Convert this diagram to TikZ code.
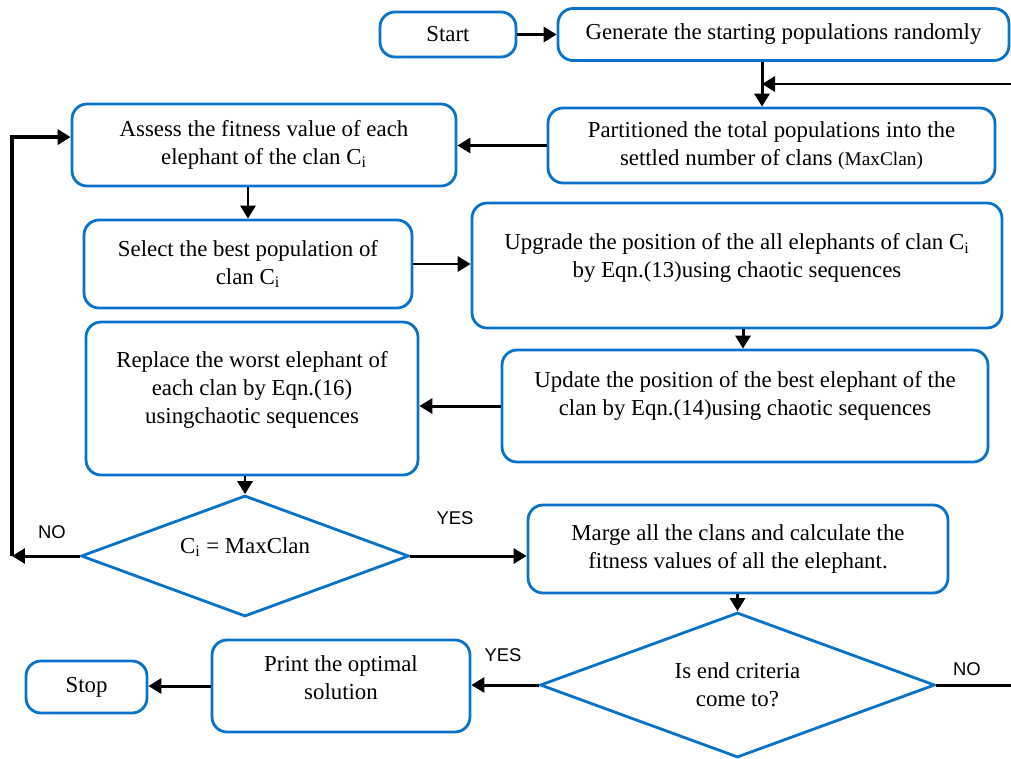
\documentclass[tikz,border=0pt]{standalone}
\usepackage{fontspec}
\setmainfont{Liberation Serif}
\setsansfont{Liberation Sans}
\usetikzlibrary{shapes.geometric,arrows.meta}
\definecolor{boxblue}{RGB}{10,114,200}
\newcommand{\lowgap}[1]{\rule[-#1]{0pt}{0pt}}

\tikzset{
    process/.style={draw=boxblue, line width=1.6pt, rounded corners=0.3cm, align=center,
        inner sep=2pt, font=\fontsize{13}{16}\selectfont},
    decision/.style={draw=boxblue, line width=1.6pt, diamond, shape aspect=2.7, align=center,
        inner sep=0pt, font=\fontsize{13}{16}\selectfont},
    flow/.style={line width=1.7pt, -{Triangle[length=0.26cm,width=0.3cm]}},
    answer/.style={font=\sffamily\fontsize{10.5}{12}\selectfont}
}

\begin{document}
\begin{tikzpicture}[x=0.02cm,y=-0.02cm]
    \useasboundingbox (0,0) rectangle (1011,758);

    % Process boxes
    \node[process, minimum width=2.72cm, minimum height=0.9cm] (start) at (448,34.5) {Start};
    \node[process, minimum width=9.02cm, minimum height=1.04cm] (gen) at (783.5,34.5) {Generate the starting populations randomly};
    \node[process, minimum width=8.94cm, minimum height=1.5cm] (part) at (771.5,145.5) {Partitioned the total populations into the\\ settled number of clans {\fontsize{11}{16}\selectfont(MaxClan)}};
    \node[process, minimum width=7.68cm, minimum height=1.64cm] (assess) at (264,145) {Assess the fitness value of each\\ elephant of the clan C\textsubscript{i}};
    \node[process, minimum width=6.56cm, minimum height=1.76cm] (select) at (248,264) {Select the best population of\\ clan C\textsubscript{i}};
    \node[process, minimum width=10.6cm, minimum height=2.5cm] (upgrade) at (737,265.5) {Upgrade the position of the all elephants of clan C\textsubscript{i}\\ by Eqn.(13)using chaotic sequences\lowgap{11pt}};
    \node[process, minimum width=9.72cm, minimum height=2.24cm] (update) at (745,406) {Update the position of the best elephant of the\\ clan by Eqn.(14)using chaotic sequences\lowgap{14pt}};
    \node[process, minimum width=6.64cm, minimum height=3.06cm] (replace) at (252,398.5) {Replace the worst elephant of\\ each clan by Eqn.(16)\\ usingchaotic sequences\lowgap{13pt}};
    \node[process, minimum width=8.4cm, minimum height=1.76cm] (marge) at (738,549) {Marge all the clans and calculate the\\ fitness values of all the elephant.};
    \node[process, minimum width=5.16cm, minimum height=1.84cm] (print) at (341,686) {Print the optimal\\ solution\lowgap{10pt}};
    \node[process, minimum width=2.42cm, minimum height=1.04cm] (stop) at (86.5,687) {Stop};

    % Decisions
    \node[decision, minimum width=6.56cm, minimum height=2.42cm] (check) at (245,556) {C\textsubscript{i} = MaxClan\lowgap{12pt}};
    \node[decision, minimum width=7.9cm, minimum height=2.9cm] (crit) at (737.5,685) {Is end criteria\\ come to?};

    % Answers
    \node[answer] (no1) at (52,532) {NO};
    \node[answer] (yes1) at (455,518) {YES};
    \node[answer] (yes2) at (503,655) {YES};
    \node[answer] (no2) at (967,669) {NO};

    % Loose ends and corners
    \coordinate (split) at (762,84);
    \coordinate (loopin) at (1011,84);
    \coordinate (drop) at (743,340);
    \coordinate (back) at (12,556);
    \coordinate (exit) at (1011,685);

    % Connectors
    \draw[flow] (start.east) -- (gen.west);
    \draw[flow] (gen.south -| split) -- (part.north -| split);
    \draw[flow] (loopin) -- (split);
    \draw[flow] (part.west) -- (part.west -| assess.east);
    \draw[flow] (assess.south -| select.north) -- (select.north);
    \draw[flow] (select.east) -- (select.east -| upgrade.west);
    \draw[flow] (upgrade.south -| drop) -- (update.north -| drop);
    \draw[flow] (update.west) -- (update.west -| replace.east);
    \draw[flow] (replace.south -| check.north) -- (check.north);
    \draw[flow] (check.west) -- (back);
    \draw[flow, line width=2.2pt] (back) |- ([yshift=4.5pt]assess.west);
    \draw[flow] (check.east) -- (check.east -| marge.west);
    \draw[flow] (marge.south -| crit.north) -- (crit.north);
    \draw[line width=1.7pt] (crit.east) -- (exit);
    \draw[flow] (crit.west) -- (crit.west -| print.east);
    \draw[flow] (print.west) -- (print.west -| stop.east);
\end{tikzpicture}
\end{document}
